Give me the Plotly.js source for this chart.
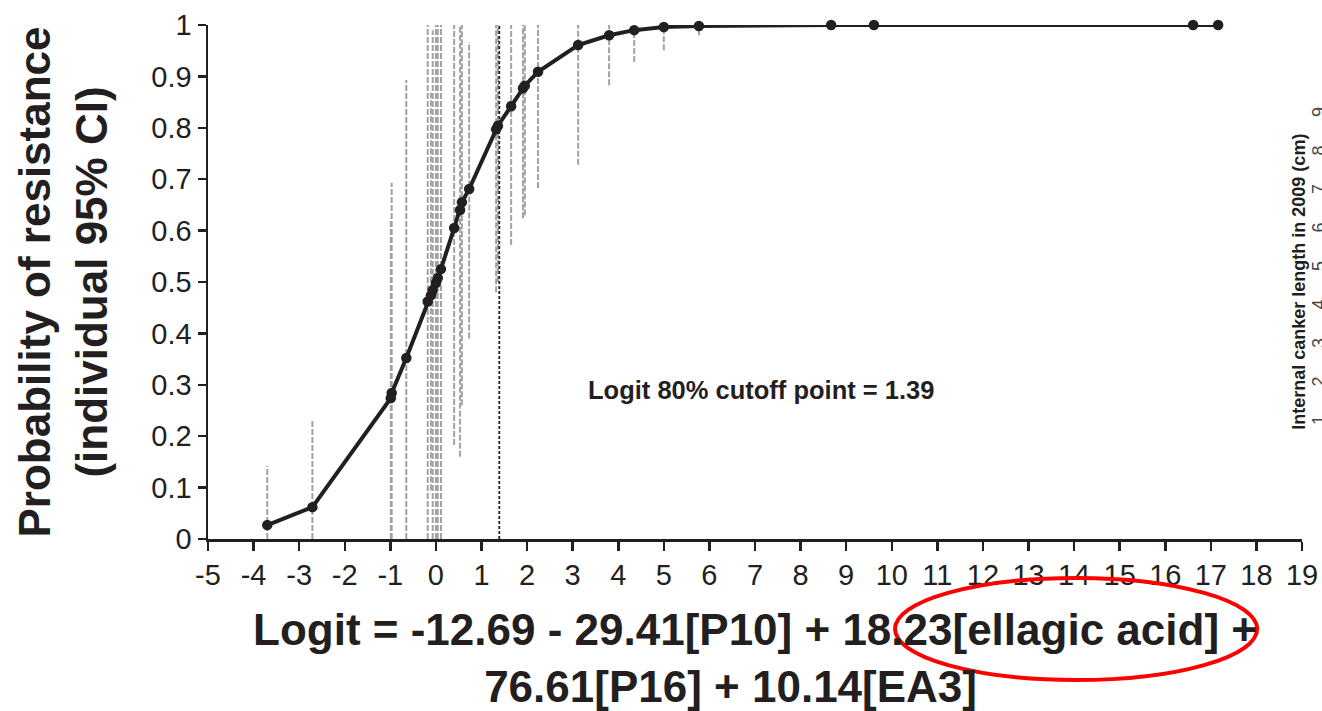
<!DOCTYPE html>
<html>
<head>
<meta charset="utf-8">
<script src="https://cdn.plot.ly/plotly-3.0.1.min.js"></script>
<style>html,body{margin:0;padding:0;background:#fff;overflow:hidden}#chart{width:1322px;height:711px}</style>
</head>
<body>
<div id="chart"></div>
<script>
// Data
const logit = [-3.70, -2.71, -0.99, -0.97, -0.65, -0.18, -0.11, -0.07, 0.00, 0.04, 0.11, 0.40, 0.53, 0.57, 0.73, 1.32, 1.36, 1.65, 1.91, 1.95, 2.24, 3.12, 3.80, 4.35, 5.00, 5.77, 8.67, 9.61, 16.61, 17.16];
const prob = [0.027, 0.062, 0.274, 0.284, 0.352, 0.462, 0.474, 0.484, 0.498, 0.508, 0.525, 0.605, 0.640, 0.655, 0.681, 0.797, 0.804, 0.842, 0.877, 0.882, 0.909, 0.961, 0.980, 0.990, 0.996, 0.998, 1.0, 1.0, 1.0, 1.0];
const ciLow = [0, 0, 0, 0, 0, 0, 0.095, 0, 0, 0, 0, 0.183, 0.16, 0.26, 0.39, 0.48, 0.50, 0.572, 0.624, 0.63, 0.683, 0.728, 0.883, 0.928, 0.951, 0.98, 1, 1, 1, 1];
const ciHigh = [0.142, 0.233, 0.624, 0.693, 0.893, 1, 0.868, 0.99, 1, 1, 1, 1, 1, 1, 0.967, 1, 1, 1, 1, 1, 1, 1, 1, 1, 1, 1, 1, 1, 1, 1];
const cutoff = 1.39;
const xTicks = [-5,-4,-3,-2,-1,0,1,2,3,4,5,6,7,8,9,10,11,12,13,14,15,16,17,18,19];
const yTicks = [0,0.1,0.2,0.3,0.4,0.5,0.6,0.7,0.8,0.9,1];
const yTickLabels = ['0','0.1','0.2','0.3','0.4','0.5','0.6','0.7','0.8','0.9','1'];
const rightDigits = ['1','2','3','4','5','6','7','8','9'];

const FONT = 'Liberation Sans, Arial, Helvetica, sans-serif';
const TXT = '#231f20';

const ciX = [], ciY = [];
logit.forEach((x, i) => { ciX.push(x, x, null); ciY.push(ciLow[i], ciHigh[i], null); });

const traces = [
  {x: ciX, y: ciY, mode: 'lines', type: 'scatter', hoverinfo: 'skip',
   line: {color: '#a0a2a5', width: 2, dash: '6px,2px'}, showlegend: false},
  {x: [cutoff, cutoff], y: [0, 1], mode: 'lines', type: 'scatter',
   line: {color: '#231f20', width: 1.8, dash: '3px,2px'}, showlegend: false},
  {x: logit, y: prob, mode: 'lines+markers', type: 'scatter', cliponaxis: false,
   line: {color: '#231f20', width: 4}, marker: {color: '#231f20', size: 10.5}, showlegend: false}
];

const annotations = [
  {text: 'Logit 80% cutoff point = ' + cutoff, x: 7.13, y: 0.29, xref: 'x', yref: 'y',
   showarrow: false, xanchor: 'center', yanchor: 'middle',
   font: {family: FONT, size: 25.5, color: TXT, weight: 'bold'}},
  {text: 'Internal canker length in 2009 (cm)', x: 0.997, y: 0.5, xref: 'paper', yref: 'paper',
   showarrow: false, textangle: -90, xanchor: 'center', yanchor: 'middle',
   font: {family: FONT, size: 18, color: TXT, weight: 'bold'}}
];
rightDigits.forEach((d, i) => {
  annotations.push({text: d, x: 1.0155, y: 0.2315 + i * 0.0749, xref: 'paper', yref: 'paper',
    showarrow: false, textangle: -90, xanchor: 'center', yanchor: 'middle',
    font: {family: FONT, size: 18, color: '#444'}});
});

const layout = {
  width: 1322, height: 711,
  margin: {l: 208, r: 20, t: 25, b: 172},
  paper_bgcolor: '#fff', plot_bgcolor: '#fff',
  font: {family: FONT, color: TXT},
  xaxis: {range: [-5, 19], tickvals: xTicks, ticktext: xTicks.map(String),
    showgrid: false, zeroline: false, showline: true, linecolor: '#231f20', linewidth: 2.5,
    ticks: 'outside', ticklen: 9, tickwidth: 2.5, tickcolor: '#231f20',
    tickfont: {family: FONT, size: 29, color: TXT},
    title: {text: 'Logit = -12.69 - 29.41[P10] + 18.23[ellagic acid] +<br>76.61[P16] + 10.14[EA3]&nbsp;&nbsp;&nbsp;&nbsp;',
      font: {family: FONT, size: 44, color: TXT, weight: 'bold'}, standoff: 25}},
  yaxis: {range: [0, 1], tickvals: yTicks, ticktext: yTickLabels,
    showgrid: false, zeroline: false, showline: true, linecolor: '#231f20', linewidth: 2.5,
    ticks: 'outside', ticklen: 8, tickwidth: 2.5, tickcolor: '#231f20',
    tickfont: {family: FONT, size: 29, color: TXT},
    title: {text: 'Probability of resistance<br>(individual 95% CI)',
      font: {family: FONT, size: 44, color: TXT, weight: 'bold'}, standoff: 30}},
  shapes: [
    {type: 'circle', xref: 'paper', yref: 'paper', x0: 0.628, x1: 0.959, y0: -0.2743, y1: -0.0759,
     line: {color: '#ff0000', width: 4}}
  ],
  annotations: annotations
};

Plotly.newPlot('chart', traces, layout, {displayModeBar: false, staticPlot: true});
</script>
</body>
</html>
